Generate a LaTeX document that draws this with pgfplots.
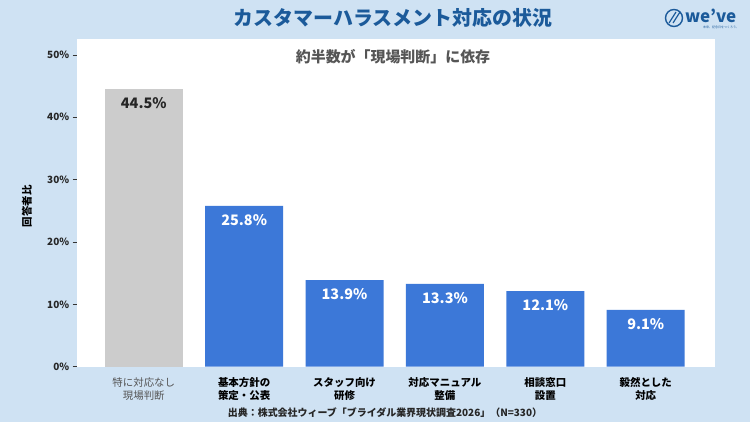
\documentclass[border=0pt]{standalone}
\usepackage{pgfplots}
\pgfplotsset{compat=1.18}
\usepackage{fontspec}
\setmainfont{Noto Sans CJK JP}
\setsansfont{Noto Sans CJK JP}
\definecolor{bgblue}{HTML}{CFE2F3}
\definecolor{barblue}{HTML}{3C78D8}
\definecolor{bargray}{HTML}{CCCCCC}
\definecolor{titleblue}{HTML}{1B5A9A}
\definecolor{subgray}{HTML}{555555}
\begin{document}
\begin{tikzpicture}[x=1bp,y=1bp]
\fill[bgblue] (0,0) rectangle (750,422);
\useasboundingbox (0,0) rectangle (750,422);
\node[font=\bfseries\fontsize{20}{24}\selectfont, text=titleblue] at (393,404) {カスタマーハラスメント対応の状況};
% logo
\draw[titleblue, line width=1.4bp] (674,404) circle (8.5);
\draw[titleblue, line width=1.2bp] (669,399) -- (676,410);
\draw[titleblue, line width=1.2bp] (673,399) -- (680,410);
\node[font=\bfseries\fontsize{17}{20}\selectfont, text=titleblue, anchor=west, inner sep=0] at (685,406) {we've};
\node[font=\fontsize{3}{4}\selectfont, text=titleblue, anchor=west, inner sep=0] at (703,395) {未来、記念日をつくろう。};
\begin{axis}[
  at={(76.7bp,55.3bp)}, anchor=south west,
  scale only axis, width=638.3bp, height=327.4bp,
  xmin=-0.668, xmax=5.69, ymin=0, ymax=52.5,
  axis background/.style={fill=white},
  axis line style={draw=none},
  ybar, bar width=78bp, bar shift=0pt,
  ytick={0,10,20,30,40,50},
  ytick pos=left,
  yticklabel={\pgfmathprintnumber{\tick}\%},
  /pgf/number format/assume math mode=true,
  yticklabel style={font=\bfseries\fontsize{10}{12}\selectfont, text=black!85},
  ytick style={draw=black!80, line width=0.6bp},
  tick align=outside, major tick length=4bp,
  xtick={0,1,2,3,4,5},
  xtick style={draw=none},
  xticklabels={{\mdseries\color{subgray}特に対応なし\\\mdseries\color{subgray}現場判断},{基本方針の\\策定・公表},{スタッフ向け\\研修},{対応マニュアル\\整備},{相談窓口\\設置},{毅然とした\\対応}},
  xticklabel style={align=center, font=\bfseries\fontsize{10.5}{13.5}\selectfont, yshift=-3bp},
  ylabel={回答者比},
  ylabel style={font=\bfseries\fontsize{10.5}{12}\selectfont, at={(axis description cs:-0.078,0.49)}, anchor=center},
  ylabel shift=0bp,
  clip=false,
  nodes near coords={\pgfmathprintnumber[fixed,precision=1,fixed zerofill]{\pgfplotspointmeta}\%},
  every node near coord/.append style={anchor=north, yshift=-5bp, font=\bfseries\fontsize{14.5}{18}\selectfont},
]
\addplot[fill=bargray, draw=none, every node near coord/.append style={text=black!85}] coordinates {(0,44.5)};
\addplot[fill=barblue, draw=none, every node near coord/.append style={text=white}] coordinates {(1,25.8) (2,13.9) (3,13.3) (4,12.1) (5,9.1)};
\end{axis}
\node[font=\bfseries\fontsize{15}{18}\selectfont, text=subgray] at (393,365) {約半数が「現場判断」に依存};
\node[font=\bfseries\fontsize{10}{12}\selectfont, text=black!85] at (385,9) {出典：株式会社ウィーブ「ブライダル業界現状調査2026」（N=330）};
\end{tikzpicture}
\end{document}
